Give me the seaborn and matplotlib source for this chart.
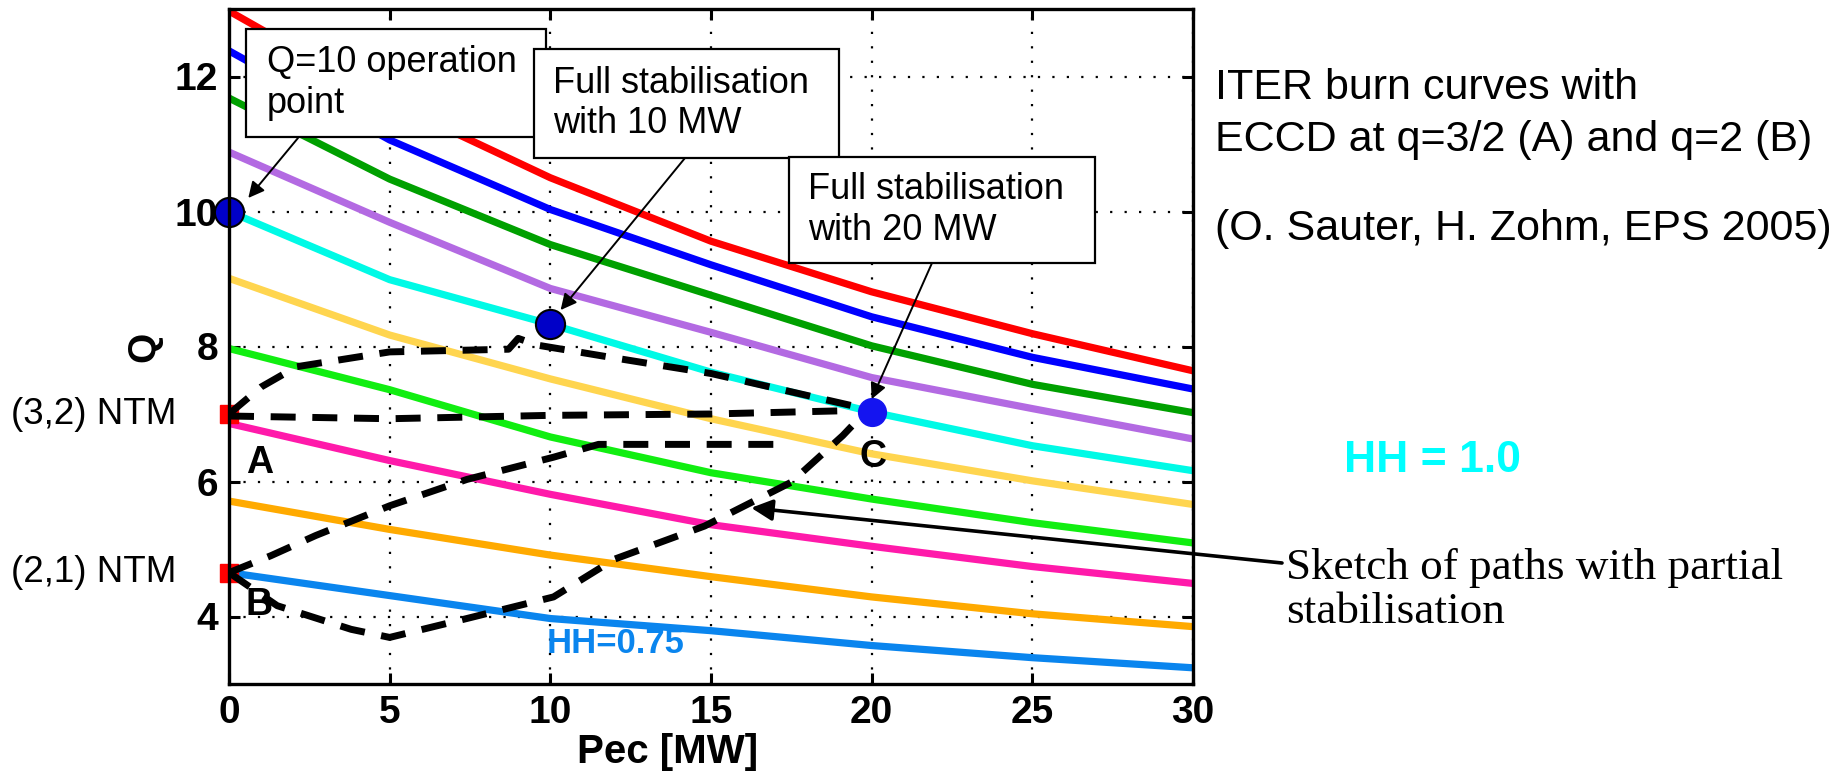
import matplotlib
matplotlib.use("Agg")
import matplotlib.pyplot as plt
from matplotlib import font_manager
from matplotlib.patches import Rectangle
from matplotlib.transforms import blended_transform_factory
import pandas as pd
import seaborn as sns

# ---------------- data ----------------
pec = [0, 5, 10, 15, 20, 25, 30]

hh_levels = ["1.20", "1.15", "1.10", "1.05", "1.00", "0.95", "0.90", "0.85", "0.80", "0.75"]
q_hh120 = [12.97, 11.62, 10.50, 9.56, 8.81, 8.19, 7.64]
q_hh115 = [12.38, 11.06, 10.03, 9.21, 8.44, 7.84, 7.37]
q_hh110 = [11.68, 10.48, 9.51, 8.76, 8.01, 7.44, 7.02]
q_hh105 = [10.88, 9.84, 8.86, 8.21, 7.54, 7.08, 6.63]
q_hh100 = [10.00, 8.99, 8.33, 7.62, 7.03, 6.53, 6.16]
q_hh095 = [9.01, 8.17, 7.52, 6.93, 6.41, 6.01, 5.66]
q_hh090 = [7.97, 7.36, 6.66, 6.13, 5.74, 5.39, 5.09]
q_hh085 = [6.86, 6.31, 5.81, 5.36, 5.04, 4.74, 4.49]
q_hh080 = [5.71, 5.29, 4.91, 4.59, 4.29, 4.04, 3.85]
q_hh075 = [4.65, 4.31, 3.97, 3.79, 3.57, 3.39, 3.24]
curve_colors = ["#FF0000", "#0000FF", "#00A000", "#B36AE2", "#00FAE6",
                "#FFD54F", "#11EE11", "#FF1AAA", "#FFAA00", "#0A85EE"]

# operating points on the HH = 1.0 curve
op_pec = [0, 10, 20]
op_q = [10.0, 8.33, 7.03]

# NTM onset points
ntm_labels = ["(3,2) NTM", "(2,1) NTM"]
ntm_q = [7.0, 4.65]

# sketched partial-stabilisation paths
pathA_top_x = [0, 1.0, 2.1, 5.0, 8.7, 9.0, 9.6, 12.0, 15.0, 19.6]
pathA_top_q = [7.0, 7.4, 7.7, 7.92, 7.96, 8.12, 8.02, 7.83, 7.6, 7.1]
pathA_flat_x = [0, 5, 10, 15, 19.3]
pathA_flat_q = [6.97, 6.93, 6.98, 7.0, 7.05]
pathB_up_x = [0, 1.3, 2.7, 5.0, 7.4, 10.1, 11.5, 17.0]
pathB_up_q = [4.65, 4.9, 5.2, 5.64, 6.03, 6.36, 6.55, 6.55]
pathB_low_x = [0, 1.5, 3.8, 5.0, 7.4, 10.1, 12.0, 14.8, 17.5, 19.1, 19.7]
pathB_low_q = [4.65, 4.16, 3.81, 3.69, 3.97, 4.29, 4.85, 5.34, 5.99, 6.68, 6.98]

x_ticks = [0, 5, 10, 15, 20, 25, 30]
y_ticks = [4, 6, 8, 10, 12]

# ---------------- style ----------------
sns.set_style("ticks")
names = {f.name for f in font_manager.fontManager.ttflist}
tick_font = "Liberation Sans Narrow" if "Liberation Sans Narrow" in names else "Liberation Sans"
plt.rcParams["font.family"] = ["Liberation Sans", "DejaVu Sans"]
plt.rcParams.update({"text.color": "black", "axes.labelcolor": "black",
                     "xtick.color": "black", "ytick.color": "black",
                     "axes.edgecolor": "black"})

W, H = 1841, 780
fig = plt.figure(figsize=(W / 100, H / 100), dpi=100)
fig.patch.set_facecolor("white")
ax_l, ax_r, ax_t, ax_b = 229, 1193, 9, 684
ax = fig.add_axes([ax_l / W, 1 - ax_b / H, (ax_r - ax_l) / W, (ax_b - ax_t) / H])


def fpx(x, y):
    """figure-pixel position measured from the top-left corner"""
    return (x, H - y)


# ---------------- burn curves ----------------
all_q = [q_hh120, q_hh115, q_hh110, q_hh105, q_hh100,
         q_hh095, q_hh090, q_hh085, q_hh080, q_hh075]
rows = []
for hh, qs in zip(hh_levels, all_q):
    for p, q in zip(pec, qs):
        rows.append({"HH": hh, "Pec": p, "Q": q})
df = pd.DataFrame(rows)
sns.lineplot(data=df, x="Pec", y="Q", hue="HH", hue_order=hh_levels,
             palette=dict(zip(hh_levels, curve_colors)), linewidth=5.2,
             legend=False, ax=ax, zorder=3)

ax.set_xlim(0, 30)
ax.set_ylim(3, 13)
ax.set_xticks(x_ticks)
ax.set_yticks(y_ticks)
ax.grid(True, color="black", linestyle=(0, (1, 5.5)), linewidth=1.6, zorder=1)
ax.tick_params(direction="in", length=8, width=2.2, top=True, right=True,
               labelsize=28, pad=8, colors="black")
for lab in ax.get_xticklabels() + ax.get_yticklabels():
    lab.set_fontweight("bold")
    lab.set_fontfamily(tick_font)
for s in ax.spines.values():
    s.set_linewidth(2.4)
    s.set_color("black")
    s.set_zorder(10)

ax.set_xlabel("Pec [MW]", fontsize=29, fontweight="bold", family=tick_font)
ax.xaxis.set_label_coords(0.455, -0.072)
ax.set_ylabel("Q", fontsize=28, fontweight="bold", family=tick_font)
ax.yaxis.set_label_coords(-0.069, 0.5)

# ---------------- dashed sketch paths ----------------
dash = (3.6, 2.4)
for px, pq in [(pathA_top_x, pathA_top_q), (pathA_flat_x, pathA_flat_q),
               (pathB_up_x, pathB_up_q), (pathB_low_x, pathB_low_q)]:
    ln = sns.lineplot(x=px, y=pq, sort=False, estimator=None, color="black",
                      linewidth=5.0, ax=ax, legend=False)
    ln.lines[-1].set_dashes(dash)
    ln.lines[-1].set_zorder(6)
    ln.lines[-1].set_solid_capstyle("butt")

# ---------------- markers ----------------
ax.plot(op_pec[:2], op_q[:2], linestyle="none", marker="o", markersize=21,
        markerfacecolor="#0000C8", markeredgecolor="black", markeredgewidth=1.5,
        zorder=8, clip_on=False)
ax.plot(op_pec[2:], op_q[2:], linestyle="none", marker="o", markersize=20,
        markerfacecolor="#1414F0", markeredgecolor="#1414F0", zorder=5, clip_on=False)
ax.plot([0] * len(ntm_q), ntm_q, linestyle="none", marker="s", markersize=13,
        color="#FF0000", zorder=5, clip_on=False)

# point labels
for txt, x, y in [("A", 0.95, 6.27), ("B", 0.95, 4.17), ("C", 20.05, 6.37)]:
    ax.text(x, y, txt, fontsize=27, fontweight="bold", family=tick_font,
            ha="center", va="center", zorder=9)
ax.text(9.9, 3.6, "HH=0.75", color="#0A85EE", fontsize=25, fontweight="bold",
        family=tick_font, ha="left", va="center", zorder=9)

# NTM labels left of the axis
btr = blended_transform_factory(fig.transFigure, ax.transData)
for lab, q in zip(ntm_labels, ntm_q):
    fig.text(176 / W, q, lab, transform=btr, fontsize=26.5, ha="right", va="center")

# ---------------- annotation boxes ----------------
boxes = [
    ((246, 29, 546, 137), "Q=10 operation\npoint", 267),
    ((534, 49, 839, 158), "Full stabilisation\nwith 10 MW", 553),
    ((789, 157, 1095, 263), "Full stabilisation\nwith 20 MW", 808),
]
for i, ((x0, y0, x1, y1), txt, tx) in enumerate(boxes):
    rect = Rectangle((x0, H - y1), x1 - x0, y1 - y0, transform=None,
                     facecolor="white", edgecolor="black", linewidth=1.6,
                     zorder=20 + i)
    fig.add_artist(rect)
    fig.text(tx / W, 1 - (y0 + y1) / 2 / H, txt, fontsize=26, ha="left",
             va="center", linespacing=1.22, zorder=20 + i + 0.5)

arrow_kw = dict(arrowstyle="-|>", color="black", lw=1.4, mutation_scale=24,
                shrinkA=0, shrinkB=0)
for tail, head in [((298, 138), (0.6, 10.2)),
                   ((685, 158), (10.32, 8.54)),
                   ((932, 263), (20.0, 7.22))]:
    ax.annotate("", xy=head, xycoords="data", xytext=fpx(*tail),
                textcoords="figure pixels", arrowprops=arrow_kw,
                annotation_clip=False, zorder=30)

# long arrow to the sketched paths
ax.annotate("", xy=(16.25, 5.61), xycoords="data", xytext=fpx(1282, 563),
            textcoords="figure pixels",
            arrowprops=dict(arrowstyle="-|>", color="black", lw=2.6,
                            mutation_scale=32, shrinkA=0, shrinkB=0),
            annotation_clip=False, zorder=30)

# ---------------- side texts ----------------
fig.text(1286 / W, 1 - 590 / H, "Sketch of paths with partial\nstabilisation",
         family=["Liberation Serif", "DejaVu Serif"], fontsize=32.5, ha="left",
         va="center", linespacing=1.12)
fig.text(1215 / W, 1 - 88 / H, "ITER burn curves with", fontsize=31,
         ha="left", va="center")
fig.text(1215 / W, 1 - 140 / H, "ECCD at q=3/2 (A) and q=2 (B)", fontsize=31,
         ha="left", va="center")
fig.text(1215 / W, 1 - 229 / H, "(O. Sauter, H. Zohm, EPS 2005)", fontsize=31,
         ha="left", va="center")
fig.text(1344 / W, 1 - 460 / H, "HH = 1.0", color="#00FFFF", fontsize=32,
         fontweight="bold", ha="left", va="center")

fig.savefig("out.png", dpi=100, facecolor="white")
